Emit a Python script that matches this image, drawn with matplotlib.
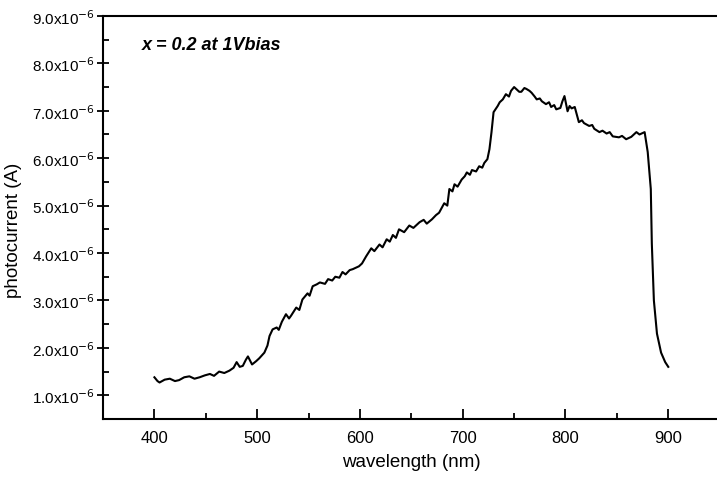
import matplotlib.pyplot as plt
import matplotlib.ticker as ticker

plt.rcParams['font.family'] = ['Liberation Sans', 'DejaVu Sans']

# wavelength (nm) and photocurrent (units of 1e-6 A)
wavelength = [400, 403, 405, 410, 415, 420, 424, 429, 434, 439, 444, 449, 454,
              458, 463, 468, 473, 477, 480, 483, 486, 489, 491, 495, 499, 502,
              507, 510, 512, 515, 519, 521, 524, 528, 531, 533, 538, 541, 544,
              549, 551, 554, 558, 561, 566, 569, 573, 576, 580, 583, 586, 590,
              593, 599, 602, 606, 611, 614, 619, 622, 626, 629, 632, 635, 638,
              643, 648, 652, 658, 662, 665, 670, 674, 677, 682, 685, 687, 690,
              692, 695, 699, 702, 704, 707, 709, 713, 716, 719, 721, 724, 726,
              728, 730, 734, 736, 739, 742, 745, 747, 750, 752, 755, 757, 760,
              762, 765, 767, 770, 772, 775, 777, 781, 784, 786, 789, 791, 795,
              797, 799, 802, 804, 806, 809, 813, 816, 818, 823, 826, 828, 833,
              836, 840, 843, 846, 852, 855, 859, 864, 869, 872, 874, 877, 880,
              883, 884, 886, 889, 893, 897, 900]
current = [1.38, 1.30, 1.27, 1.33, 1.35, 1.30, 1.32, 1.38, 1.40, 1.35, 1.38,
           1.42, 1.45, 1.41, 1.50, 1.47, 1.52, 1.58, 1.70, 1.60, 1.62, 1.75,
           1.82, 1.65, 1.72, 1.78, 1.90, 2.05, 2.25, 2.39, 2.43, 2.38, 2.55,
           2.71, 2.62, 2.68, 2.85, 2.80, 3.02, 3.15, 3.10, 3.30, 3.34, 3.38,
           3.35, 3.45, 3.42, 3.50, 3.48, 3.60, 3.55, 3.64, 3.66, 3.72, 3.78,
           3.93, 4.10, 4.04, 4.18, 4.12, 4.29, 4.24, 4.38, 4.32, 4.50, 4.44,
           4.58, 4.53, 4.65, 4.70, 4.62, 4.71, 4.80, 4.85, 5.05, 5.00, 5.35,
           5.30, 5.45, 5.40, 5.55, 5.62, 5.70, 5.65, 5.75, 5.72, 5.83, 5.80,
           5.90, 5.98, 6.19, 6.55, 6.97, 7.10, 7.18, 7.24, 7.35, 7.30, 7.42,
           7.50, 7.46, 7.40, 7.40, 7.48, 7.46, 7.42, 7.38, 7.30, 7.24, 7.26,
           7.20, 7.14, 7.18, 7.08, 7.12, 7.03, 7.06, 7.20, 7.31, 6.99, 7.10,
           7.05, 7.08, 6.76, 6.80, 6.74, 6.68, 6.70, 6.62, 6.55, 6.58, 6.52,
           6.55, 6.46, 6.44, 6.47, 6.40, 6.45, 6.55, 6.50, 6.52, 6.55, 6.13,
           5.35, 4.20, 3.00, 2.30, 1.90, 1.70, 1.60]

x_ticks = [400, 500, 600, 700, 800, 900]
y_ticks = [1, 2, 3, 4, 5, 6, 7, 8, 9]
y_labels = ["%.1fx10$^{-6}$" % v for v in y_ticks]

fig = plt.figure(figsize=(7.17, 4.81), dpi=100)
ax = fig.add_axes([0.1437, 0.1268, 0.86, 0.838])

ax.plot(wavelength, current, color="black", lw=1.5)

ax.set_xlim(350, 950)
ax.set_ylim(0.5, 9.0)
ax.set_xticks(x_ticks)
ax.set_yticks(y_ticks)
ax.set_yticklabels(y_labels)
ax.xaxis.set_minor_locator(ticker.MultipleLocator(50))
ax.yaxis.set_minor_locator(ticker.MultipleLocator(0.5))

ax.tick_params(axis="x", which="major", direction="in", length=7, width=1.3,
               labelsize=12, pad=8)
ax.tick_params(axis="x", which="minor", direction="in", length=4, width=1.3)
ax.tick_params(axis="y", which="major", direction="inout", length=9, width=1.3,
               labelsize=11, pad=1)
ax.tick_params(axis="y", which="minor", direction="in", length=4, width=1.3)

for side in ["left", "bottom", "top"]:
    ax.spines[side].set_linewidth(1.5)
ax.spines["right"].set_visible(False)

ax.set_xlabel("wavelength (nm)", fontsize=13.5, labelpad=6)
ax.set_ylabel("photocurrent (A)", fontsize=13.5, labelpad=6)
ax.yaxis.set_label_coords(-0.132, 0.47)

ax.text(0.063, 0.93, "x = 0.2 at 1Vbias", transform=ax.transAxes,
        fontsize=13, fontweight="bold", fontstyle="italic", va="center")

plt.savefig("out.png", dpi=100)
